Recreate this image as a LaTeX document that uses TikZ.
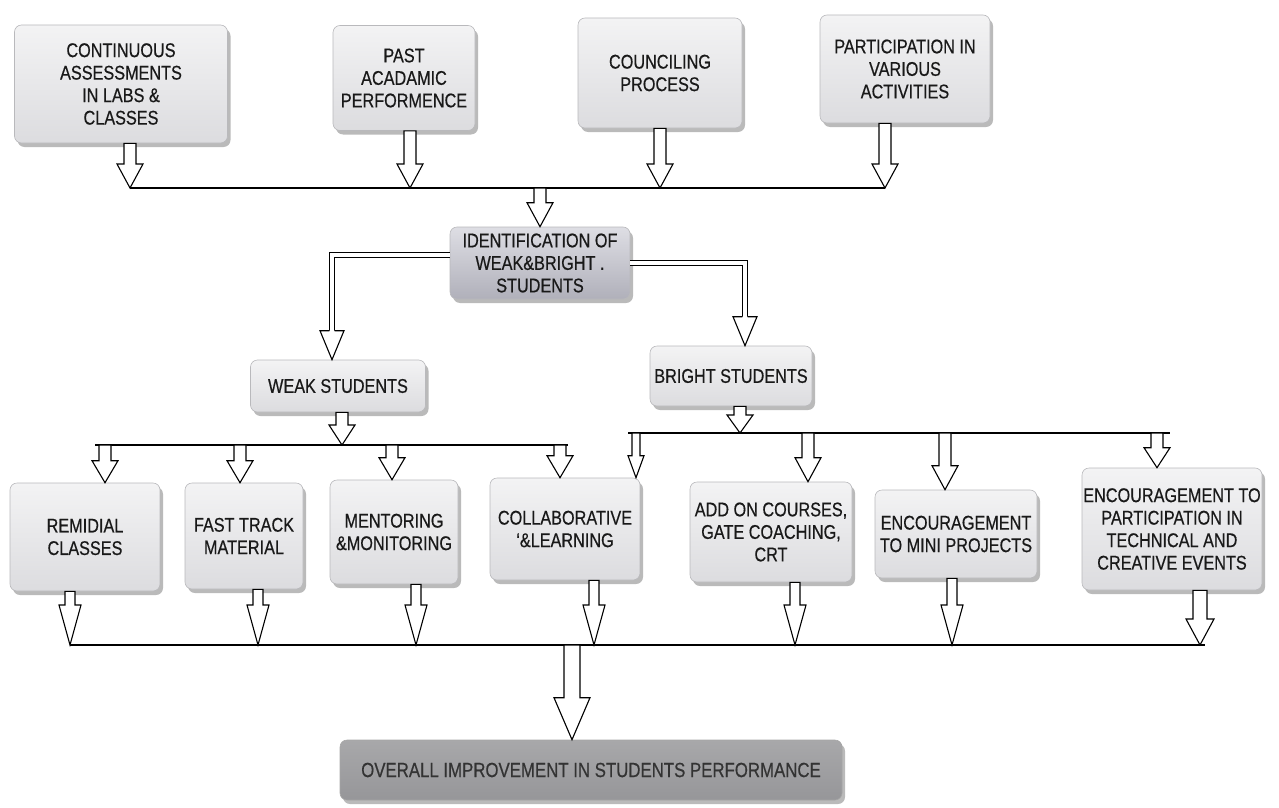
\documentclass[tikz,border=0pt]{standalone}
\usepackage{fontspec}
\setmainfont{Liberation Sans}[FakeStretch=0.82,FakeBold=0.5]
\usetikzlibrary{calc,shadows}
\definecolor{boxtop}{RGB}{243,243,244}
\definecolor{boxbot}{RGB}{220,220,223}
\definecolor{boxline}{RGB}{185,185,188}
\definecolor{idtop}{RGB}{222,222,228}
\definecolor{idbot}{RGB}{176,176,186}
\definecolor{ovtop}{RGB}{168,168,170}
\definecolor{ovmid}{RGB}{198,198,200}
\definecolor{ovbot}{RGB}{150,150,153}
\definecolor{txt}{RGB}{25,25,25}
\newcommand\bfnt{\fontsize{19.8}{22.5}\selectfont}
\newcommand\ofnt{\fontsize{20.5}{22}\selectfont}
% block arrow: x-ref, start-y ref, tip-y ref, shaft half width, head half width, head length
\newcommand\barrow[6]{\path[arrowshape] let \p1=#1, \p2=#2, \p3=#3 in
  (\x1-#4pt,\y2) -- (\x1+#4pt,\y2) -- (\x1+#4pt,\y3+#6pt) -- (\x1+#5pt,\y3+#6pt) --
  (\x1,\y3) -- (\x1-#5pt,\y3+#6pt) -- (\x1-#4pt,\y3+#6pt) -- cycle;}
% open head for double-line arrows: tip point, head half width, head length
\newcommand\dhead[3]{\path[arrowshape] let \p1=#1 in
  (\x1-2.6pt,\y1+#3pt) -- (\x1-#2pt,\y1+#3pt) -- (\x1,\y1) -- (\x1+#2pt,\y1+#3pt) -- (\x1+2.6pt,\y1+#3pt);}
\tikzset{
  box/.style={draw=boxline, line width=0.6pt, rounded corners=7pt,
    top color=boxtop, bottom color=boxbot,
    drop shadow={shadow xshift=3pt, shadow yshift=-4pt, fill=black!45, opacity=0.6},
    align=center, font=\bfnt, text=txt, inner sep=1pt},
  idbox/.style={box, top color=idtop, bottom color=idbot},
  ovbox/.style={box, shading=axis, top color=ovtop, middle color=ovmid, bottom color=ovbot, font=\ofnt, draw=black!35, text=black!80},
  arrowshape/.style={draw=black, fill=white, line width=1.1pt, line join=miter},
  bus/.style={draw=black, line width=1.5pt},
  dbl/.style={draw=black, line width=1.1pt, double=white, double distance=4pt}
}
\begin{document}
\begin{tikzpicture}[x=1pt,y=-1pt]
\useasboundingbox (0,0) rectangle (1279,808);
% top row
\node[box, minimum width=213pt, minimum height=118pt] (c1) at (121,84) {CONTINUOUS\\ASSESSMENTS\\IN LABS \&\\CLASSES};
\node[box, minimum width=142pt, minimum height=105pt] (c2) at (404,78) {PAST\\ACADAMIC\\PERFORMENCE};
\node[box, minimum width=164pt, minimum height=110pt] (c3) at (660,73) {COUNCILING\\PROCESS};
\node[box, minimum width=170pt, minimum height=108pt] (c4) at (905,69) {PARTICIPATION IN\\VARIOUS\\ACTIVITIES};
% middle
\node[idbox, minimum width=180pt, minimum height=72pt] (id) at (540,263) {IDENTIFICATION OF\\WEAK\&BRIGHT .\\STUDENTS};
\node[box, minimum width=175pt, minimum height=52pt] (weak) at (338,386) {WEAK STUDENTS};
\node[box, minimum width=162pt, minimum height=60pt] (bright) at (731,376) {BRIGHT STUDENTS};
% bottom row
\node[box, minimum width=150pt, minimum height=108pt] (b1) at (85,537) {REMIDIAL\\CLASSES};
\node[box, minimum width=118pt, minimum height=106pt] (b2) at (244,536) {FAST TRACK\\MATERIAL};
\node[box, minimum width=128pt, minimum height=104pt] (b3) at (394,532) {MENTORING\\\&MONITORING};
\node[box, minimum width=150pt, minimum height=102pt] (b4) at (565,529) {COLLABORATIVE\\`\&LEARNING};
\node[box, minimum width=162pt, minimum height=100pt] (b5) at (771,532) {ADD ON COURSES,\\GATE COACHING,\\CRT};
\node[box, minimum width=162pt, minimum height=88pt] (b6) at (956,534) {ENCOURAGEMENT\\TO MINI PROJECTS};
\node[box, minimum width=180pt, minimum height=122pt] (b7) at (1172,529) {ENCOURAGEMENT TO\\PARTICIPATION IN\\TECHNICAL AND\\CREATIVE EVENTS};
\node[ovbox, minimum width=502pt, minimum height=60pt] (ov) at (591,770) {OVERALL IMPROVEMENT IN STUDENTS PERFORMANCE};
% bus lines
\coordinate (bus1w) at (130,188); \coordinate (bus1e) at (885,188);
\coordinate (bus2w) at (95,445);  \coordinate (bus2e) at (568,445);
\coordinate (bus3w) at (628,433); \coordinate (bus3e) at (1170,433);
\coordinate (bus4w) at (70,645);  \coordinate (bus4e) at (1205,645);
\draw[bus] (bus1w) -- (bus1e);
\draw[bus] (bus2w) -- (bus2e);
\draw[bus] (bus3w) -- (bus3e);
\draw[bus] (bus4w) -- (bus4e);
% top arrows to bus 1
\barrow{($(c1.south)+(9,0)$)}{(c1.south)}{(bus1w)}{6}{13}{24}
\barrow{($(c2.south)+(6,0)$)}{(c2.south)}{(bus1w)}{6}{13}{24}
\barrow{(c3.south)}{(c3.south)}{(bus1w)}{6}{13}{24}
\barrow{($(c4.south)+(-20,0)$)}{(c4.south)}{(bus1w)}{6}{13}{24}
\barrow{(id.north)}{(bus1w)}{(id.north)}{6}{13}{24}
% double-line arrows
\draw[dbl] ($(id.west)+(0,-8)$) -| ($(weak.north)+(-6,-29)$);
\dhead{($(weak.north)+(-6,0)$)}{12}{29}
\draw[dbl] ($(id.east)+(0,0)$) -| ($(bright.north)+(14,-29)$);
\dhead{($(bright.north)+(14,0)$)}{12}{29}
% weak/bright to buses
\barrow{($(weak.south)+(4,0)$)}{(weak.south)}{(bus2w)}{6}{13}{20}
\barrow{($(bright.south)+(9,0)$)}{(bright.south)}{(bus3w)}{6}{13}{18}
% bus 2 to weak-side boxes
\barrow{($(b1.north)+(20,0)$)}{(bus2w)}{(b1.north)}{6}{13}{22}
\barrow{($(b2.north)+(-4,0)$)}{(bus2w)}{(b2.north)}{6}{13}{22}
\barrow{($(b3.north)+(-2,0)$)}{(bus2w)}{(b3.north)}{6}{13}{22}
\barrow{($(b4.north)+(-5,0)$)}{(bus2w)}{(b4.north)}{6}{13}{22}
% bus 3 to bright-side boxes
\barrow{($(b4.north)+(71,0)$)}{(bus3w)}{(b4.north)}{4}{8}{22}
\barrow{($(b5.north)+(37,0)$)}{(bus3w)}{(b5.north)}{6}{13}{24}
\barrow{($(b6.north)+(-11,0)$)}{(bus3w)}{(b6.north)}{6}{13}{24}
\barrow{($(b7.north)+(-15,0)$)}{(bus3w)}{(b7.north)}{6}{13}{20}
% bottom boxes to bus 4
\barrow{($(b1.south)+(-15,0)$)}{(b1.south)}{(bus4w)}{5}{11}{40}
\barrow{($(b2.south)+(14,0)$)}{(b2.south)}{(bus4w)}{5}{11}{40}
\barrow{($(b3.south)+(22,0)$)}{(b3.south)}{(bus4w)}{5}{11}{40}
\barrow{($(b4.south)+(29,0)$)}{(b4.south)}{(bus4w)}{5}{11}{40}
\barrow{($(b5.south)+(24,0)$)}{(b5.south)}{(bus4w)}{5}{11}{40}
\barrow{($(b6.south)+(-4,0)$)}{(b6.south)}{(bus4w)}{5}{11}{40}
\barrow{($(b7.south)+(28,0)$)}{(b7.south)}{(bus4w)}{7}{14}{26}
% to overall
\barrow{($(ov.north)+(-19,0)$)}{(bus4w)}{(ov.north)}{8}{18}{42}
\end{tikzpicture}
\end{document}
